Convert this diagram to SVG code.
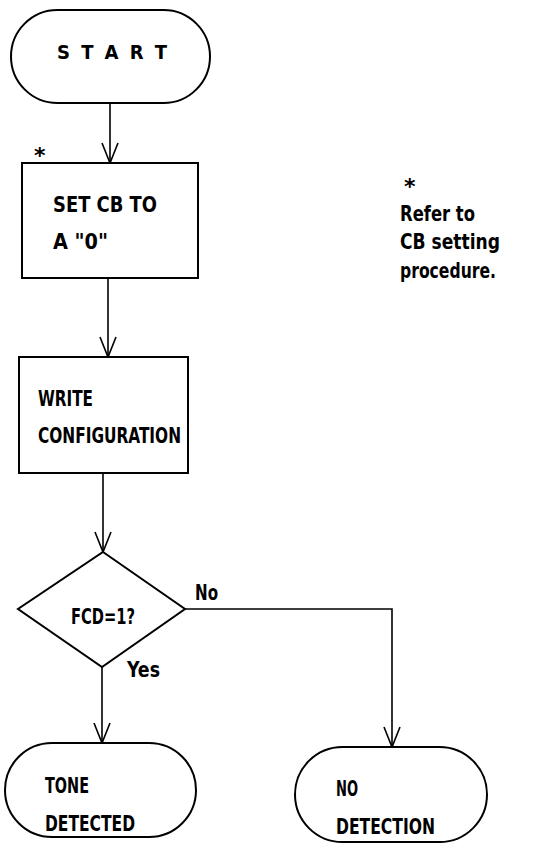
<svg xmlns="http://www.w3.org/2000/svg" width="547" height="847" viewBox="0 0 547 847">
<style>
.s{fill:#fff;stroke:#000;stroke-width:2}
.c{fill:none;stroke:#000;stroke-width:1.6}
.t{font-family:"DejaVu Sans Condensed","Liberation Sans",sans-serif;font-weight:bold;font-size:22px;fill:#000}
.k{font-family:"DejaVu Sans","Liberation Sans",sans-serif;font-weight:bold;font-size:22px;fill:#000}
</style>
<defs>
<marker id="a" markerWidth="22" markerHeight="16" refX="20" refY="8" orient="auto" markerUnits="userSpaceOnUse" viewBox="0 0 22 16" overflow="visible">
<path d="M0,0 L20,8 L0,16" fill="none" stroke="#000" stroke-width="1.6"/>
</marker>
</defs>
<g id="connectors">
<path class="c" d="M110,103 V163" marker-end="url(#a)"/>
<path class="c" d="M108,278 V357" marker-end="url(#a)"/>
<path class="c" d="M103,473 V552" marker-end="url(#a)"/>
<path class="c" d="M102,667 V743" marker-end="url(#a)"/>
<path class="c" d="M185,609 H392 V747" marker-end="url(#a)"/>
<text class="t" x="195" y="600" textLength="23" lengthAdjust="spacingAndGlyphs">No</text>
<text class="t" x="127" y="677" textLength="33" lengthAdjust="spacingAndGlyphs">Yes</text>
</g>
<g id="start">
<rect class="s" x="11" y="10" width="199" height="93" rx="46.5"/>
<text class="t" x="57" y="59" textLength="110" lengthAdjust="spacing" style="font-size:20px">S T A R T</text>
</g>
<g id="setcb">
<rect class="s" x="22" y="163" width="176" height="115"/>
<text class="t" x="53" y="212" textLength="104" lengthAdjust="spacingAndGlyphs">SET CB TO</text>
<text class="t" x="53" y="249" textLength="55" lengthAdjust="spacingAndGlyphs">A "0"</text>
<text class="k" x="34" y="163">*</text>
</g>
<g id="write">
<rect class="s" x="19" y="357" width="169" height="116"/>
<text class="t" x="38" y="406" textLength="55" lengthAdjust="spacingAndGlyphs">WRITE</text>
<text class="t" x="38" y="443" textLength="143" lengthAdjust="spacingAndGlyphs">CONFIGURATION</text>
</g>
<g id="decision">
<polygon class="s" points="103,552 185,609 102,667 18,609"/>
<text class="t" x="71" y="624" textLength="64" lengthAdjust="spacingAndGlyphs">FCD=1?</text>
</g>
<g id="tone">
<rect class="s" x="5" y="743" width="191" height="94" rx="47"/>
<text class="t" x="45" y="793" textLength="44" lengthAdjust="spacingAndGlyphs">TONE</text>
<text class="t" x="45" y="831" textLength="90" lengthAdjust="spacingAndGlyphs">DETECTED</text>
</g>
<g id="nodetect">
<rect class="s" x="295" y="747" width="192" height="95" rx="47.5"/>
<text class="t" x="336" y="796" textLength="22" lengthAdjust="spacingAndGlyphs">NO</text>
<text class="t" x="336" y="834" textLength="99" lengthAdjust="spacingAndGlyphs">DETECTION</text>
</g>
<g id="note">
<text class="k" x="404" y="194">*</text>
<text class="t" x="400" y="221" textLength="75" lengthAdjust="spacingAndGlyphs">Refer to</text>
<text class="t" x="400" y="249" textLength="100" lengthAdjust="spacingAndGlyphs">CB setting</text>
<text class="t" x="400" y="278" textLength="96" lengthAdjust="spacingAndGlyphs">procedure.</text>
</g>
</svg>
